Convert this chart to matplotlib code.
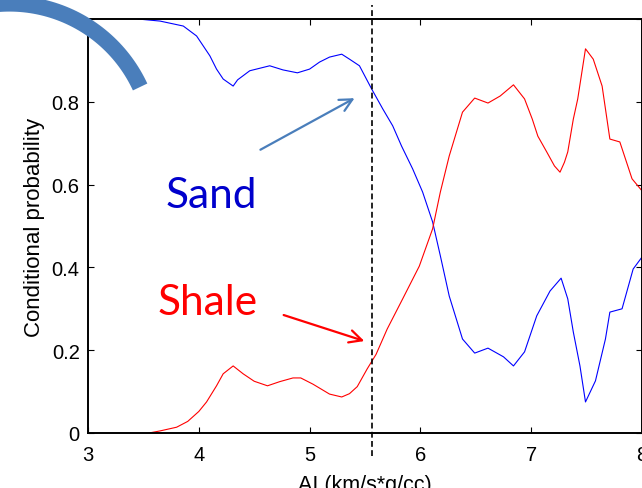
import numpy as np
import matplotlib.pyplot as plt
from matplotlib.lines import Line2D

# ---------------- data ----------------
shale_x = [3.55, 3.65, 3.8, 3.9, 4.0, 4.07, 4.16, 4.22, 4.31, 4.4, 4.5, 4.62,
           4.73, 4.85, 4.92, 5.03, 5.18, 5.29, 5.36, 5.43, 5.52, 5.6, 5.7,
           5.84, 5.99, 6.11, 6.18, 6.26, 6.38, 6.49, 6.61, 6.72, 6.84, 6.94,
           7.01, 7.06, 7.14, 7.21, 7.26, 7.3, 7.33, 7.38, 7.42, 7.49, 7.56,
           7.64, 7.71, 7.8, 7.91, 8.0]
shale_p = [0.0, 0.005, 0.014, 0.028, 0.052, 0.075, 0.114, 0.143, 0.162, 0.143,
           0.125, 0.114, 0.124, 0.133, 0.133, 0.118, 0.094, 0.087, 0.095,
           0.112, 0.155, 0.19, 0.251, 0.324, 0.403, 0.493, 0.582, 0.669,
           0.775, 0.809, 0.797, 0.814, 0.841, 0.807, 0.758, 0.717, 0.679,
           0.645, 0.63, 0.654, 0.679, 0.758, 0.807, 0.928, 0.903, 0.838,
           0.71, 0.703, 0.614, 0.585]

sand_x = [3.45, 3.65, 3.86, 3.98, 4.1, 4.16, 4.22, 4.31, 4.35, 4.46, 4.64,
          4.76, 4.89, 5.0, 5.09, 5.18, 5.29, 5.36, 5.45, 5.56, 5.66, 5.75,
          5.83, 5.93, 6.02, 6.11, 6.18, 6.26, 6.38, 6.49, 6.61, 6.75, 6.84,
          6.94, 7.05, 7.17, 7.27, 7.33, 7.38, 7.44, 7.49, 7.58, 7.67, 7.71,
          7.82, 7.92, 8.0]
sand_p = [1.0, 0.995, 0.983, 0.959, 0.911, 0.879, 0.855, 0.838, 0.853, 0.875,
          0.887, 0.877, 0.87, 0.879, 0.896, 0.908, 0.915, 0.903, 0.887, 0.831,
          0.783, 0.742, 0.693, 0.638, 0.582, 0.51, 0.428, 0.331, 0.227, 0.193,
          0.205, 0.184, 0.162, 0.196, 0.283, 0.343, 0.374, 0.324, 0.244,
          0.162, 0.075, 0.126, 0.227, 0.292, 0.3, 0.396, 0.425]

cutoff = 5.56
xticks = [3, 4, 5, 6, 7, 8]
yticks = [0, 0.2, 0.4, 0.6, 0.8, 1.0]
ytick_labels = ['0', '0.2', '0.4', '0.6', '0.8', '']

# ---------------- figure ----------------
plt.rcParams['font.family'] = ['Liberation Sans', 'DejaVu Sans']
fig = plt.figure(figsize=(6.42, 4.89), dpi=100)
ax = fig.add_axes([88 / 642, 55 / 489, 554 / 642, 414 / 489])

ax.plot(sand_x, sand_p, color='#0000ff', lw=0.8)
ax.plot(shale_x, shale_p, color='#ff0000', lw=0.8)
ax.plot([cutoff, cutoff], [-0.055, 1.035], color='black', lw=1.2,
        dashes=(3.5, 2.0), clip_on=False)

ax.set_xlim(3, 8)
ax.set_ylim(0, 1)
ax.set_xticks(xticks)
ax.set_yticks(yticks)
ax.set_yticklabels(ytick_labels)
ax.tick_params(direction='in', length=4, width=0.8, top=True, right=True,
               labelsize=14.5)
ax.tick_params(axis='x', pad=9)
ax.tick_params(axis='y', pad=6)
for s in ax.spines.values():
    s.set_linewidth(1.4)
ax.set_xlabel('AI (km/s*g/cc)', fontsize=15.5, labelpad=7)
ax.set_ylabel('Conditional probability', fontsize=16, labelpad=5)

# annotations
ax.text(3.704, 0.546, 'Sand', color='#0000cc', fontsize=30.5,
        family=['Lato', 'DejaVu Sans'], ha='left', va='baseline')
ax.text(3.632, 0.287, 'Shale', color='#ff0000', fontsize=30.5,
        family=['Lato', 'DejaVu Sans'], ha='left', va='baseline')
ax.annotate('', xy=(5.428, 0.812), xytext=(4.534, 0.681),
            arrowprops=dict(arrowstyle='->,head_length=0.9,head_width=0.45',
                            color='#4a7ebb', lw=1.6))
ax.annotate('', xy=(5.518, 0.22), xytext=(4.742, 0.287),
            arrowprops=dict(arrowstyle='->,head_length=0.9,head_width=0.45',
                            color='#ff0000', lw=1.6))

# big decorative arc at top-left
t = np.linspace(np.radians(110), np.radians(24.9), 60)
cx, cy, r = 9.5, 489 - 148.6, 144
arc = Line2D((cx + r * np.cos(t)) / 642, (cy + r * np.sin(t)) / 489,
             transform=fig.transFigure, color='#4a7ebb', lw=11.5,
             solid_capstyle='butt', zorder=10)
fig.add_artist(arc)

fig.savefig('out.png', dpi=100)
